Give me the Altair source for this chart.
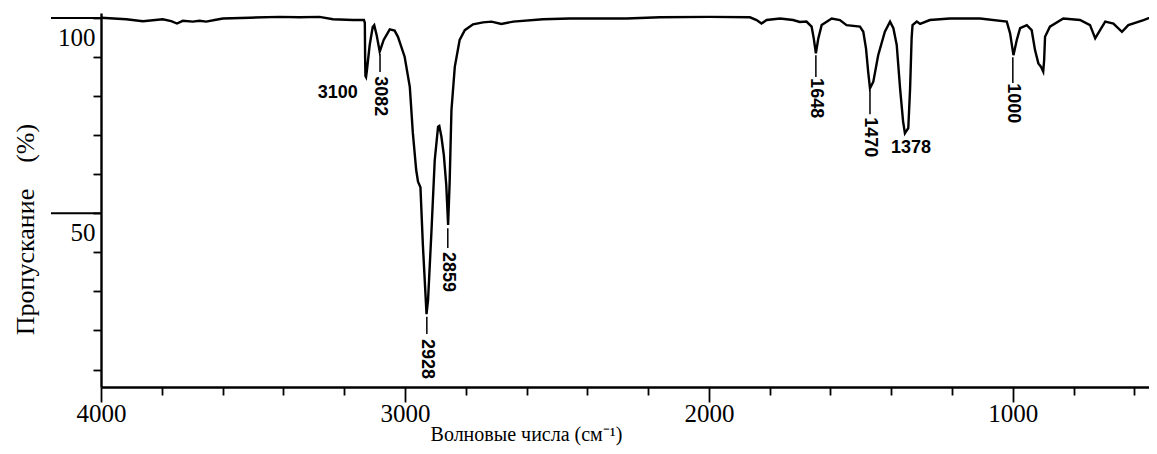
import altair as alt
import pandas as pd

# IR spectrum (wavenumber, cm-1) and transmittance (%)
wavenumber = [4000, 3917, 3862, 3797, 3769, 3750, 3731, 3698, 3676, 3654, 3626, 3599, 3511, 3412,
              3347, 3281, 3237, 3171, 3135, 3132, 3131, 3130, 3128, 3125, 3116, 3106, 3101, 3093,
              3083, 3070, 3050, 3034, 3023, 3001, 2984, 2974, 2963, 2957, 2949, 2941, 2929, 2924,
              2913, 2902, 2891, 2887, 2880, 2872, 2864, 2858, 2853, 2847, 2836, 2820, 2803, 2776,
              2743, 2715, 2683, 2644, 2546, 2458, 2271, 2161, 1997, 1865, 1843, 1827, 1810, 1766,
              1723, 1701, 1679, 1662, 1655, 1648, 1640, 1629, 1596, 1569, 1547, 1503, 1492, 1483,
              1476, 1470, 1459, 1443, 1421, 1404, 1393, 1382, 1371, 1361, 1355, 1344, 1338, 1333,
              1330, 1316, 1305, 1273, 1207, 1108, 1020, 1009, 998, 987, 976, 954, 938, 927,
              916, 907, 900, 897, 894, 878, 834, 779, 746, 729, 713, 696, 669, 641, 620, 570, 525]
transmittance = [100.1, 99.7, 99.2, 99.7, 99.2, 98.6, 99.3, 99.1, 99.3, 99.1, 99.5, 99.9, 100.1, 100.3,
                 100.2, 100.3, 99.7, 99.5, 99.5, 98.8, 90.0, 85.2, 84.9, 86.7, 93.1, 97.7, 98.2, 95.6,
                 91.4, 94.4, 97.1, 96.8, 95.2, 90.1, 82.4, 70.6, 61.1, 58.1, 56.7, 41.9, 24.2, 27.8,
                 45.0, 63.6, 72.2, 72.4, 69.6, 64.9, 57.2, 47.0, 57.8, 76.4, 87.5, 94.4, 96.9, 98.4,
                 98.9, 99.1, 98.5, 99.1, 99.7, 99.9, 99.9, 100.2, 100.3, 100.2, 99.5, 98.6, 99.5, 99.9,
                 99.5, 99.0, 99.1, 97.8, 94.8, 91.0, 94.8, 98.2, 99.9, 99.5, 98.2, 97.8, 96.5, 92.2,
                 86.3, 82.0, 83.7, 90.5, 96.5, 99.1, 97.4, 93.1, 82.0, 73.5, 70.5, 71.8, 82.0, 94.8,
                 98.2, 99.1, 98.5, 99.5, 99.9, 99.9, 99.1, 96.1, 90.5, 94.4, 97.4, 98.2, 96.9, 91.8,
                 88.4, 87.5, 86.3, 89.2, 95.2, 97.8, 99.9, 99.5, 98.2, 94.8, 96.9, 99.1, 98.6, 96.5,
                 98.2, 99.5, 100.8]

# Peak annotations: rotated labels with leader lines
rot_text = ["3082", "2928", "2859", "1648", "1470", "1000"]
rot_x = [3082, 2928, 2859, 1648, 1470, 1000]
rot_y = [80.0, 12.7, 35.0, 79.5, 69.5, 78.2]
leader_top = [90.8, 23.5, 46.2, 90.5, 81.6, 90.0]
leader_bottom = [86.2, 19.1, 41.1, 84.9, 75.4, 83.4]

# horizontal labels
hor_text = ["3100", "1378"]
hor_x = [3221, 1335]
hor_y = [80.9, 66.7]

# long reference lines on the y axis
ref_levels = [100, 50]

x_ticks = list(range(4000, 500, -100))
y_ticks = list(range(10, 101, 5))

X_DOMAIN = [4000, 552]
Y_DOMAIN = [5.53, 101.3]

spec = pd.DataFrame({"wn": wavenumber, "t": transmittance, "i": range(len(wavenumber))})
rot = pd.DataFrame({"text": rot_text, "x": rot_x, "y": rot_y, "y1": leader_top, "y2": leader_bottom})
hor = pd.DataFrame({"text": hor_text, "x": hor_x, "y": hor_y})
refs = pd.DataFrame({"v": ref_levels})

xscale = alt.Scale(domain=X_DOMAIN, nice=False, zero=False)
yscale = alt.Scale(domain=Y_DOMAIN, nice=False, zero=False)

serif = "Liberation Serif, Times New Roman, serif"
sans = "Liberation Sans Narrow, Liberation Sans, Arial"

x_axis = alt.Axis(
    values=x_ticks, format="d",
    labelExpr="datum.value % 1000 == 0 ? datum.label : ''",
    tickSize={"condition": [{"test": "datum.value % 1000 == 0", "value": 15},
                            {"test": "datum.value % 500 == 0", "value": 12}], "value": 8},
    labelFlush=False, labelFont=serif, labelFontSize=25, labelColor="black",
    labelPadding=-1, labelBaseline="top",
    domainColor="black", domainWidth=2.4, tickColor="black", tickWidth=1.8,
    grid=False,
    title="Волновые числа (см⁻¹)", titleFont=serif, titleFontSize=20, titleFontWeight="normal",
    titleColor="black", titleX=425, titleY=53, titleAnchor="start", titleAlign="center",
    titleBaseline="alphabetic",
)

y_axis = alt.Axis(
    values=y_ticks, format="d",
    labelExpr="datum.value == 100 || datum.value == 50 ? datum.label : ''",
    tickSize=8, labelPadding=-2, labelOffset=19,
    labelFont=serif, labelFontSize=25, labelColor="black",
    domainColor="black", domainWidth=2.4, tickColor="black", tickWidth=1.8,
    grid=False,
    title="Пропускание\u00a0\u00a0\u00a0\u00a0(%)", titleFont=serif, titleFontSize=26,
    titleFontWeight="normal", titleColor="black",
    titleX=-76, titleY=216, titleAngle=270, titleAlign="center", titleBaseline="middle",
    titleAnchor="start",
)

line = alt.Chart(spec).mark_line(color="black", strokeWidth=2.4, clip=True).encode(
    x=alt.X("wn:Q", scale=xscale, axis=x_axis),
    y=alt.Y("t:Q", scale=yscale, axis=y_axis),
    order="i:Q",
)

ref_lines = alt.Chart(refs).mark_rule(color="black", strokeWidth=2).encode(
    y=alt.Y("v:Q", scale=yscale),
    x=alt.value(-50),
    x2=alt.value(0),
)

leaders = alt.Chart(rot).mark_rule(color="black", strokeWidth=1.5).encode(
    x=alt.X("x:Q", scale=xscale),
    y=alt.Y("y1:Q", scale=yscale),
    y2="y2:Q",
)

rot_labels = alt.Chart(rot).mark_text(
    angle=90, align="center", baseline="middle", font=sans, fontSize=18,
    fontWeight="bold", color="black",
).encode(
    x=alt.X("x:Q", scale=xscale),
    y=alt.Y("y:Q", scale=yscale),
    text="text:N",
)

hor_labels = alt.Chart(hor).mark_text(
    align="center", baseline="middle", font=sans, fontSize=18,
    fontWeight="bold", color="black",
).encode(
    x=alt.X("x:Q", scale=xscale),
    y=alt.Y("y:Q", scale=yscale),
    text="text:N",
)

chart = alt.layer(line, ref_lines, leaders, rot_labels, hor_labels).properties(
    width=1048, height=374,
    autosize=alt.AutoSizeParams(type="none"),
    padding={"left": 93, "top": 5, "right": 0, "bottom": 59},
    background="white",
).configure_view(stroke=None)

chart.save("out.html", embed_options={"renderer": "svg", "actions": False})
